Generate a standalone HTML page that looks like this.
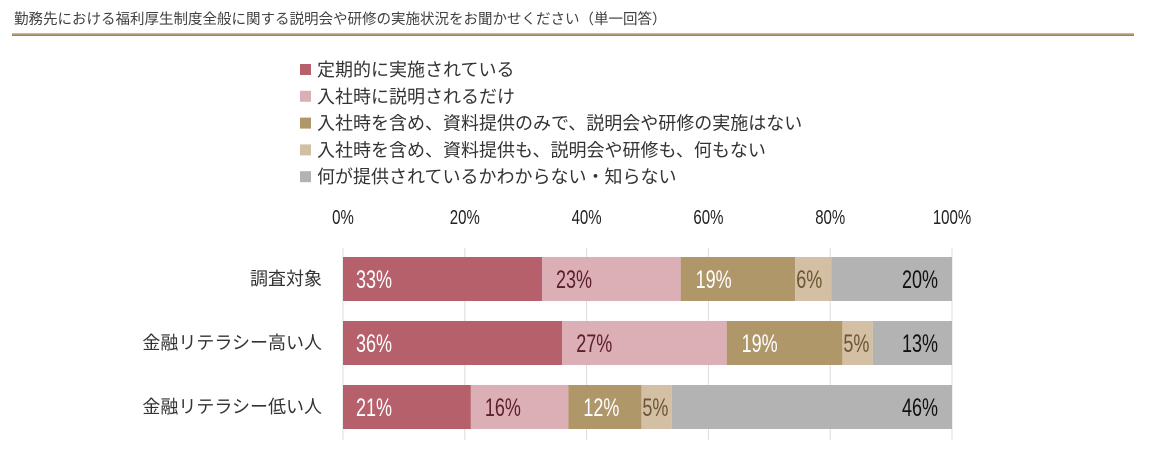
<!DOCTYPE html>
<html><head><meta charset="utf-8"><style>
body{margin:0;background:#fff;width:1155px;height:462px;overflow:hidden;font-family:"Liberation Sans","Noto Sans CJK JP",sans-serif}
</style></head><body>
<svg width="1155" height="462" xmlns="http://www.w3.org/2000/svg">
<defs><linearGradient id="ul" x1="0" y1="0" x2="0" y2="1"><stop offset="0" stop-color="#d8c6a4"/><stop offset="1" stop-color="#8f7448"/></linearGradient></defs>
<text x="14" y="24" font-size="14.5" fill="#404040">勤務先における福利厚生制度全般に関する説明会や研修の実施状況をお聞かせください（単一回答）</text>
<rect x="12" y="33" width="1122" height="3" fill="url(#ul)"/>
<g id="legend"></g><g id="grid"></g><g id="bars"></g>
</svg>
<script>
const categories=["調査対象","金融リテラシー高い人","金融リテラシー低い人"];
const seriesNames=["定期的に実施されている","入社時に説明されるだけ","入社時を含め、資料提供のみで、説明会や研修の実施はない","入社時を含め、資料提供も、説明会や研修も、何もない","何が提供されているかわからない・知らない"];
const s1=[33,36,21];
const s2=[23,27,16];
const s3=[19,19,12];
const s4=[6,5,5];
const s5=[20,13,46];
const ticks=[0,20,40,60,80,100];
const series=[s1,s2,s3,s4,s5];
const colors=["#b5606a","#dcaeb6","#b0976a","#d3bfa3","#b3b3b3"];
const lblColors=["#ffffff","#5a1f2a","#ffffff","#6b5533","#111111"];
const NS="http://www.w3.org/2000/svg";
const x0=343,x1=952;
const xs=v=>x0+(x1-x0)*v/100;
const rowY=[257,321,385],barH=44;
function mk(t,a,p){const e=document.createElementNS(NS,t);for(const k in a)e.setAttribute(k,a[k]);p.appendChild(e);return e;}
const lg=document.getElementById('legend');
seriesNames.forEach((n,i)=>{const y=70+i*26.8;
 const r=mk('rect',{x:300,y:y-6,width:11,height:11,fill:colors[i]},lg);
 
 
 const t=mk('text',{x:317,y:y+6,'font-size':18,fill:'#333'},lg);t.textContent=n;
 
 
});
const gg=document.getElementById('grid');
ticks.forEach(v=>{
 const l=mk('line',{x1:xs(v),x2:xs(v),y1:248,y2:440,stroke:'#dcdcdc','stroke-width':1},gg);
 
 
 const t=mk('text',{x:xs(v),y:224,'font-size':20,'text-anchor':'middle',fill:'#222',transform:`translate(${xs(v)},0) scale(0.75,1) translate(${-xs(v)},0)`},gg);t.textContent=v+'%';
 
 
});
const bg=document.getElementById('bars');
categories.forEach((c,ci)=>{
 const y=rowY[ci];
 const ct=mk('text',{x:322,y:y+barH/2+6,'font-size':18,'text-anchor':'end',fill:'#333'},bg);ct.textContent=c;
 
 
 let tot=0;series.forEach(s=>tot+=s[ci]);
 let acc=0;
 series.forEach((s,si)=>{
  const v=s[ci];const a=xs(acc/tot*100),b=xs((acc+v)/tot*100);acc+=v;
  const r=mk('rect',{x:a,y:y,width:b-a,height:barH,fill:colors[si]},bg);
  
  
  let lx,anchor='start';
  if(si==0)lx=a+13;else if(si==4){lx=x1-14;anchor='end';}else if(si==3)lx=a+1;else lx=a+(si==1?14:15);
  const t=mk('text',{x:lx,y:y+barH/2+9,'font-size':25,'text-anchor':anchor,fill:lblColors[si],transform:`translate(${lx},0) scale(0.72,1) translate(${-lx},0)`},bg);
  t.textContent=v+'%';
  
  
 });
});
</script>
</body></html>
